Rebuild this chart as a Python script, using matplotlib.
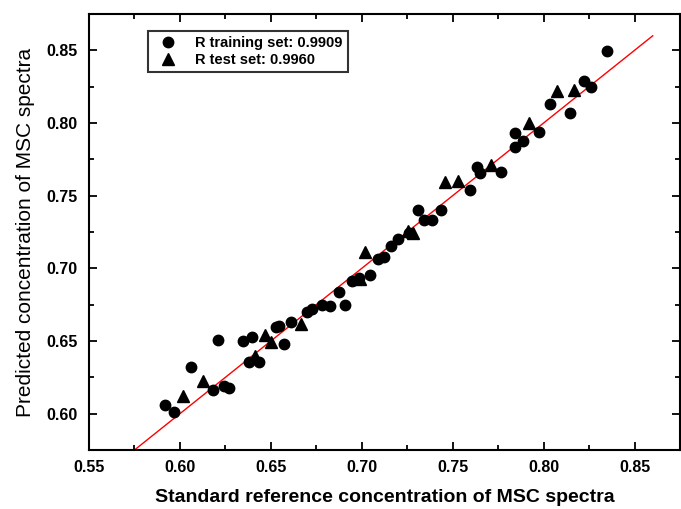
import matplotlib
matplotlib.use("Agg")
import matplotlib.pyplot as plt
from matplotlib.ticker import MultipleLocator, FormatStrFormatter

plt.rcParams['font.family'] = ['Liberation Sans', 'DejaVu Sans']

# training set (standard reference, predicted)
train_x = [0.5916, 0.597, 0.606, 0.621, 0.618, 0.6244, 0.627, 0.6345, 0.6396,
           0.6573, 0.6381, 0.6436, 0.6527, 0.6545, 0.661, 0.670, 0.6728,
           0.6782, 0.6828, 0.691, 0.6877, 0.6947, 0.6983, 0.7047, 0.7089,
           0.712, 0.7162, 0.7198, 0.7262, 0.7312, 0.7345, 0.7385, 0.7435,
           0.7595, 0.7631, 0.765, 0.7764, 0.784, 0.7844, 0.7886, 0.7974,
           0.8036, 0.8146, 0.8224, 0.826, 0.8348]
train_y = [0.606, 0.601, 0.632, 0.651, 0.616, 0.619, 0.618, 0.6498, 0.6525,
           0.6477, 0.6354, 0.6354, 0.6594, 0.6605, 0.6632, 0.670, 0.6719,
           0.6747, 0.6738, 0.675, 0.6838, 0.6913, 0.6936, 0.6952, 0.7062,
           0.708, 0.7153, 0.7203, 0.7245, 0.7404, 0.7331, 0.7331, 0.7404,
           0.7541, 0.770, 0.7655, 0.7666, 0.7838, 0.7934, 0.7879, 0.794,
           0.813, 0.807, 0.829, 0.8248, 0.8495]

# test set
test_x = [0.6016, 0.6126, 0.6469, 0.650, 0.6414, 0.6664, 0.6993, 0.7016,
          0.7257, 0.7284, 0.7457, 0.753, 0.7713, 0.7919, 0.8074, 0.8166]
test_y = [0.6125, 0.6228, 0.654, 0.6495, 0.640, 0.6616, 0.6925, 0.7112,
          0.7256, 0.7245, 0.7591, 0.7598, 0.7712, 0.7998, 0.8221, 0.8226]

r_train = 0.9909
r_test = 0.9960
fit_x = [0.575, 0.86]

fig = plt.figure(figsize=(6.81, 5.09), dpi=100)
ax = fig.add_axes([0.1307, 0.1159, 0.8678, 0.8566])

ax.plot(fit_x, fit_x, color='red', lw=1.0, zorder=1)
ax.plot(train_x, train_y, 'o', color='black', ms=7.5, ls='none',
        label=f'R training set: {r_train:.4f}', zorder=2)
ax.plot(test_x, test_y, '^', color='black', ms=8, ls='none',
        label=f'R test set: {r_test:.4f}', zorder=2)

ax.set_xlim(0.55, 0.875)
ax.set_ylim(0.575, 0.875)
ax.xaxis.set_major_locator(MultipleLocator(0.05))
ax.xaxis.set_minor_locator(MultipleLocator(0.025))
ax.yaxis.set_major_locator(MultipleLocator(0.05))
ax.yaxis.set_minor_locator(MultipleLocator(0.025))
ax.xaxis.set_major_formatter(FormatStrFormatter('%.2f'))
ax.yaxis.set_major_formatter(FormatStrFormatter('%.2f'))
ax.tick_params(which='both', direction='in', top=True, right=True, width=1.3)
ax.tick_params(which='major', length=6, labelsize=11.5)
ax.tick_params(which='minor', length=3.5)
ax.tick_params(axis='x', which='major', pad=7)
ax.tick_params(axis='y', which='major', pad=8)
for lab in ax.get_xticklabels() + ax.get_yticklabels():
    lab.set_fontweight('bold')
for s in ax.spines.values():
    s.set_linewidth(1.5)

ax.set_xlabel('Standard reference concentration of MSC spectra',
              fontsize=14, fontweight='bold', labelpad=10)
ax.set_ylabel('Predicted concentration of MSC spectra', fontsize=15, labelpad=8)

leg = ax.legend(loc='upper left', bbox_to_anchor=(0.1, 0.962), frameon=True,
                fancybox=False, edgecolor='black', borderpad=0.35,
                handletextpad=0.9, labelspacing=0.25, borderaxespad=0,
                prop={'weight': 'bold', 'size': 10.5})
leg.get_frame().set_linewidth(1.5)

fig.savefig('out.png', dpi=100)
